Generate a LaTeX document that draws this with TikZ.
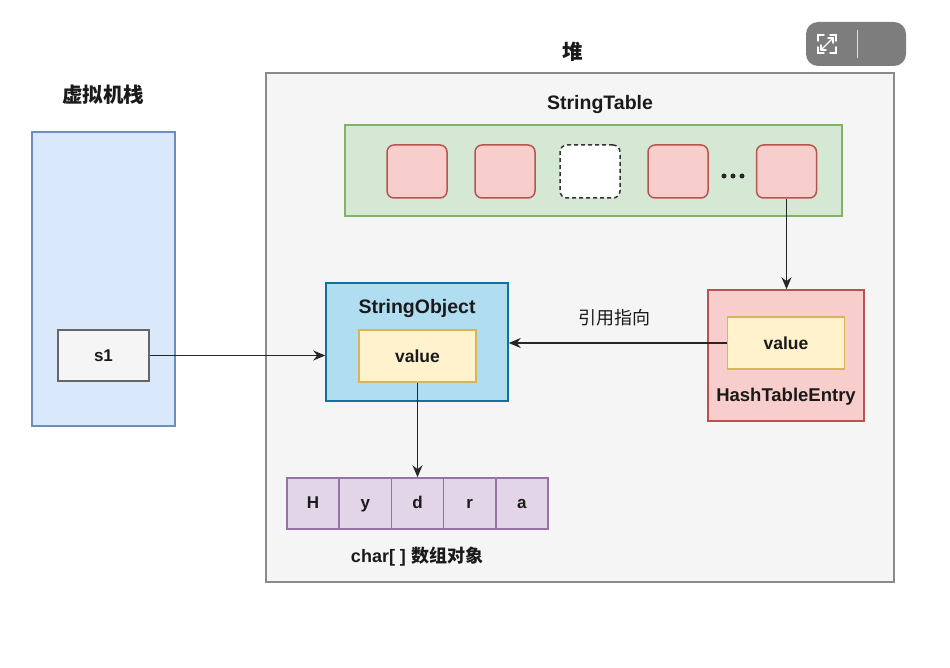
\documentclass[tikz,border=0pt]{standalone}
\usepackage{fontspec}
\setmainfont{Liberation Sans}
\newfontfamily\cjk{Noto Sans CJK SC}
\usetikzlibrary{arrows.meta}
\definecolor{stackfill}{HTML}{DAE8FC}
\definecolor{stackdraw}{HTML}{6C8EBF}
\definecolor{heapfill}{HTML}{F5F5F5}
\definecolor{heapdraw}{HTML}{8A8A8A}
\definecolor{tabfill}{HTML}{D5E8D4}
\definecolor{tabdraw}{HTML}{82B366}
\definecolor{redfill}{HTML}{F8CECC}
\definecolor{reddraw}{HTML}{B85450}
\definecolor{sofill}{HTML}{B1DDF0}
\definecolor{sodraw}{HTML}{10739E}
\definecolor{valfill}{HTML}{FFF2CC}
\definecolor{valdraw}{HTML}{D6B656}
\definecolor{charfill}{HTML}{E1D5E7}
\definecolor{chardraw}{HTML}{9673A6}
\definecolor{txt}{HTML}{1A1A1A}
\definecolor{btn}{HTML}{7D7D7D}
\tikzset{
  box/.style={draw, line width=1.5pt, inner sep=0pt, text=txt},
  slot/.style={box, fill=redfill, draw=reddraw, rounded corners=7pt, minimum width=60pt, minimum height=53pt},
  valbox/.style={box, fill=valfill, draw=valdraw, minimum width=117pt, minimum height=52pt, font=\fontsize{17.5}{20}\selectfont\bfseries},
  cell/.style={box, fill=charfill, draw=chardraw, minimum width=52.2pt, minimum height=51pt, text height=12.5pt, text depth=3.5pt, font=\fontsize{17}{19}\selectfont\bfseries},
  lbl/.style={inner sep=0pt, text=txt, font=\fontsize{19.5}{22}\selectfont\bfseries},
  clbl/.style={inner sep=0pt, text=txt, font=\fontsize{20.5}{22}\selectfont\cjk\bfseries},
  arr/.style={-{Stealth[length=12pt,width=10pt]}, line width=1.6pt, draw=black!85},
}
\begin{document}
\begin{tikzpicture}[x=1pt,y=-1pt]
\useasboundingbox (0,0) rectangle (950,668);
\fill[white] (0,0) rectangle (950,668);
% stack
\node[box, fill=stackfill, draw=stackdraw, minimum width=143pt, minimum height=294pt] (stack) at (103.5,279) {};
\node[clbl] (stacklbl) at (103,95) {虚拟机栈};
\node[box, fill=heapfill, draw=black!60, minimum width=91pt, minimum height=51pt, font=\fontsize{17}{19}\selectfont\bfseries] (s1) at (103.5,355.5) {s1};
% heap
\node[box, fill=heapfill, draw=heapdraw, line width=1.8pt, minimum width=628pt, minimum height=509pt] (heap) at (580,327.5) {};
\node[clbl] (heaplbl) at (573,52) {堆};
% string table
\node[lbl] (stlbl) at (600,105) {StringTable};
\node[box, fill=tabfill, draw=tabdraw, minimum width=497pt, minimum height=91pt] (table) at (593.5,170.5) {};
\node[slot] (e1) at (417,171.5) {};
\node[slot] (e2) at (505,171.5) {};
\node[slot, fill=white, draw=black!80, dashed, dash pattern=on 4pt off 3pt] (e3) at (590,171.5) {};
\node[slot] (e4) at (678,171.5) {};
\node[slot] (e5) at (786.5,171.5) {};
\foreach \x in {724,733,742} \fill[black!85] (\x,176) circle (2.5pt);
% HashTableEntry
\node[box, fill=redfill, draw=reddraw, minimum width=156pt, minimum height=131pt] (hte) at (786,355.5) {};
\node[valbox] (hval) at (786,343) {value};
\node[lbl, font=\fontsize{18.5}{21}\selectfont\bfseries] (htelbl) at (786,397) {HashTableEntry};
% StringObject
\node[box, fill=sofill, draw=sodraw, minimum width=182pt, minimum height=118pt] (so) at (417,342) {};
\node[lbl] (solbl) at (417,309) {StringObject};
\node[valbox] (sval) at (417.5,356) {value};
% char array
\node[cell] (c1) at (313.1,503.5) {H};
\node[cell] (c2) at (365.3,503.5) {y};
\node[cell] (c3) at (417.5,503.5) {d};
\node[cell] (c4) at (469.7,503.5) {r};
\node[cell] (c5) at (521.9,503.5) {a};
\node[inner sep=0pt, text=txt, font=\fontsize{18}{20}\selectfont\bfseries] (charlbl) at (417,557) {char[ ] {\cjk 数组对象}};
% arrows
\draw[arr] (s1.east) -- (so.west |- s1.east);
\draw[arr] (e5.south) -- (e5.south |- hte.north);
\draw[arr] (hval.west) -- (so.east |- hval.west);
\node[inner sep=0pt, text=txt, font=\fontsize{18}{20}\selectfont\cjk] (ref) at (614,318) {引用指向};
\draw[arr] (sval.south) -- (sval.south |- c3.north);
% overlay button
\fill[btn] (806,22) [rounded corners=12pt] rectangle (906,66);
\draw[white!75!btn, line width=1pt] (857,30) -- (857,58);
\begin{scope}[draw=white, line width=1.4pt, line cap=round]
  \draw (818,41) -- (818,35) -- (824,35);
  \draw (830,35) -- (836,35) -- (836,41);
  \draw (818,47) -- (818,53) -- (824,53);
  \draw (830,53) -- (836,53) -- (836,47);
  \draw (821,50) -- (833,38);
  \draw (833,38) -- (833,43);
  \draw (833,38) -- (828,38);
  \draw (821,50) -- (821,45);
  \draw (821,50) -- (826,50);
\end{scope}
\end{tikzpicture}
\end{document}
